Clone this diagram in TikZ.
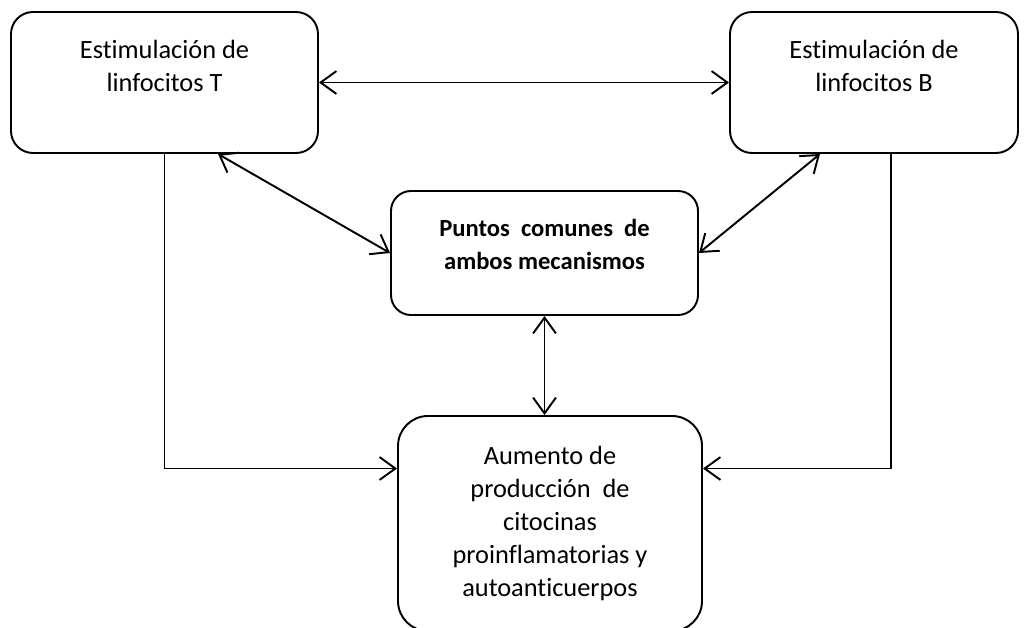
\documentclass[tikz,border=0pt]{standalone}
\usepackage{fontspec}
\setmainfont{Carlito}[RawFeature=-liga]
\usetikzlibrary{arrows.meta}
\begin{document}
\begin{tikzpicture}[every node/.style={draw, line width=1.1pt, align=center, inner sep=0pt,
            font=\fontsize{15}{18.8}\selectfont},
        >={Straight Barb[length=9pt,width=13pt]}]
            \useasboundingbox (0, 0) rectangle (20.5, -12.56);

            \node[rounded corners=0.44cm, minimum width=6.14cm, minimum height=2.82cm]
                (tcell) at (3.29, -1.65) {Estimulación de\\linfocitos T\\~};
            \node[rounded corners=0.44cm, minimum width=5.76cm, minimum height=2.82cm]
                (bcell) at (17.48, -1.65) {Estimulación de\\linfocitos B\\~};
            \node[rounded corners=0.4cm, minimum width=6.14cm, minimum height=2.48cm,
                font=\fontsize{14}{18.8}\selectfont\bfseries]
                (common) at (10.89, -5.06) {Puntos\ \ comunes\ \ de\\ambos mecanismos\\[-0.3cm]~};
            \node[rounded corners=0.6cm, minimum width=6.08cm, minimum height=4.3cm]
                (result) at (11.0, -10.47) {Aumento de\\producción\ \ de\\citocinas\\proinflamatorias y\\autoanticuerpos};

            \draw[<->, line width=1.1pt] (tcell.east) -- (bcell.west);
            \draw[<->, line width=1.1pt] ([xshift=1.07cm]tcell.south) -- (common.west);
            \draw[<->, line width=1.1pt] ([xshift=-1.08cm]bcell.south) -- (common.east);
            \draw[<->, line width=1.1pt] (common.south) -- (common.south |- result.north);
            \draw[->, line width=1.1pt] (tcell.south) |- ([yshift=1.1cm]result.west);
            \draw[->, line width=1.1pt] ([xshift=0.34cm]bcell.south) |- ([yshift=1.1cm]result.east);
        \end{tikzpicture}
\end{document}
